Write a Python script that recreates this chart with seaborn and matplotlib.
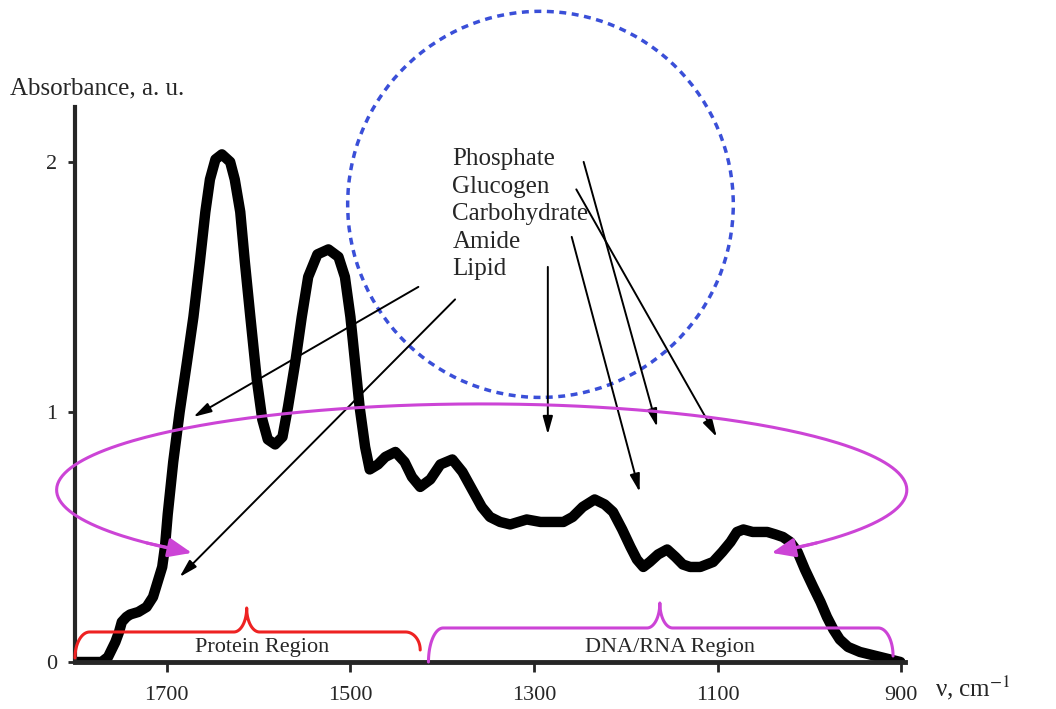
import numpy as np
import matplotlib
matplotlib.use("Agg")
import matplotlib.pyplot as plt
from matplotlib.patches import Ellipse
import seaborn as sns

# ---- data ----
wavenumber = [1800, 1771, 1764, 1760, 1756, 1752, 1749, 1744, 1740, 1731, 1722, 1715,
              1710, 1705, 1702, 1699, 1695, 1693, 1686, 1678, 1671, 1664, 1658, 1653,
              1647, 1640, 1631, 1626, 1620, 1615, 1609, 1602, 1596, 1590, 1582, 1574,
              1568, 1560, 1553, 1546, 1536, 1524, 1513, 1506, 1500, 1495, 1490, 1484,
              1479, 1470, 1462, 1451, 1441, 1433, 1424, 1413, 1402, 1389, 1378, 1366,
              1357, 1348, 1337, 1326, 1317, 1308, 1293, 1279, 1268, 1258, 1247, 1234,
              1223, 1214, 1204, 1195, 1188, 1181, 1174, 1165, 1155, 1146, 1138, 1130,
              1119, 1105, 1095, 1086, 1079, 1072, 1062, 1054, 1046, 1037, 1029, 1021,
              1013, 1005, 996, 988, 981, 974, 967, 958, 945, 934, 923, 912, 901]
absorbance = [0.0, 0.0, 0.02, 0.05, 0.08, 0.12, 0.16, 0.18, 0.19, 0.20, 0.22, 0.26,
              0.32, 0.38, 0.46, 0.59, 0.73, 0.80, 1.0, 1.2, 1.38, 1.6, 1.8, 1.93,
              2.01, 2.03, 2.0, 1.93, 1.8, 1.6, 1.38, 1.13, 0.97, 0.89, 0.87, 0.9,
              1.02, 1.2, 1.38, 1.54, 1.63, 1.65, 1.62, 1.54, 1.38, 1.2, 1.02, 0.86,
              0.77, 0.79, 0.82, 0.84, 0.80, 0.74, 0.70, 0.73, 0.79, 0.81, 0.76, 0.68,
              0.62, 0.58, 0.56, 0.55, 0.56, 0.57, 0.56, 0.56, 0.56, 0.58, 0.62, 0.65,
              0.63, 0.60, 0.53, 0.46, 0.41, 0.38, 0.40, 0.43, 0.45, 0.42, 0.39, 0.38,
              0.38, 0.40, 0.44, 0.48, 0.52, 0.53, 0.52, 0.52, 0.52, 0.51, 0.50, 0.48,
              0.44, 0.37, 0.30, 0.24, 0.18, 0.13, 0.09, 0.06, 0.04, 0.03, 0.02, 0.01, 0.0]
x_ticks = [1700, 1500, 1300, 1100, 900]
y_ticks = [0, 1, 2]
labels = ["Phosphate", "Glucogen", "Carbohydrate", "Amide", "Lipid"]

sns.set_style("ticks")
plt.rcParams["font.family"] = ["Liberation Serif", "DejaVu Serif"]
plt.rcParams["mathtext.fontset"] = "stix"

fig = plt.figure(figsize=(10.56, 7.09), dpi=100)
ax = fig.add_axes([0.071, 0.0663, 0.786, 0.783])

sns.lineplot(x=wavenumber, y=absorbance, ax=ax, color="black", linewidth=7.5,
             estimator=None, sort=False, solid_joinstyle="round", solid_capstyle="round")

ax.set_xlim(1800, 896)
ax.set_ylim(0, 2.22)
ax.set_xticks(x_ticks)
ax.set_yticks(y_ticks)
ax.tick_params(axis="x", labelsize=16, length=7, width=2, pad=10)
ax.tick_params(axis="y", labelsize=16, length=5, width=2, pad=8)
sns.despine(ax=ax)
ax.spines["left"].set_linewidth(3)
ax.spines["bottom"].set_linewidth(3.5)
ax.set_xlabel("")
ax.set_ylabel("")

fig.text(10 / 1056, 1 - 88 / 709, "Absorbance, a. u.", fontsize=18, va="center", ha="left")
fig.text(935 / 1056, 1 - 688 / 709, r"ν, cm$^{-1}$", fontsize=18, va="center", ha="left")

# ---- blue dashed circle ----
circ = Ellipse((1293, 1.83), width=420, height=1.544, fill=False, edgecolor="#3a4fd8",
               linewidth=2.5, linestyle=(0, (2.0, 1.6)), clip_on=False, zorder=3)
ax.add_patch(circ)

# ---- labels in the circle ----
label_y = [2.01, 1.90, 1.79, 1.68, 1.57]
for lab, yy in zip(labels, label_y):
    ax.text(1389, yy, lab, fontsize=18, ha="left", va="center")

# ---- black arrows ----
arrows = [((1426, 1.50), (1671, 0.98)),
          ((1386, 1.45), (1686, 0.34)),
          ((1285, 1.58), (1285, 0.91)),
          ((1259, 1.70), (1185, 0.68)),
          ((1246, 2.00), (1166, 0.94)),
          ((1254, 1.89), (1101, 0.90))]
for start, end in arrows:
    ax.annotate("", xy=end, xytext=start, zorder=4,
                arrowprops=dict(arrowstyle="-|>,head_length=0.9,head_width=0.25",
                                mutation_scale=12, color="black", lw=1.4,
                                shrinkA=0, shrinkB=0))

# ---- magenta open ellipse with arrows ----
mag = "#cc44d6"
wc, yc, axr, ayr = 1357, 0.688, 463, 0.344
phi = np.radians(np.linspace(226, -46, 300))
ex = wc - axr * np.cos(phi)
ey = yc + ayr * np.sin(phi)
ax.plot(ex, ey, color=mag, lw=2.2, clip_on=False, zorder=4)
for a0, a1 in [(218, 227), (-38, -47)]:
    p0 = (wc - axr * np.cos(np.radians(a0)), yc + ayr * np.sin(np.radians(a0)))
    p1 = (wc - axr * np.cos(np.radians(a1)), yc + ayr * np.sin(np.radians(a1)))
    ax.annotate("", xy=p1, xytext=p0, zorder=4,
                arrowprops=dict(arrowstyle="-|>,head_length=1.1,head_width=0.45",
                                mutation_scale=13, color=mag, lw=2.2,
                                shrinkA=0, shrinkB=0))


# ---- curly braces ----
def brace(xl, xr, xt, yl_end, yr_end, yline, ytip, rx, tx, color):
    t = np.linspace(0, np.pi / 2, 30)
    h = ytip - yline
    # left end curl (axis is inverted: display-right means smaller wavenumber)
    s1x = xl - rx * (1 - np.cos(t))
    s1y = yl_end + (yline - yl_end) * np.sin(t)
    # rising into the cusp
    s2x = xt + tx * (1 - np.sin(t))
    s2y = yline + h * (1 - np.cos(t))
    # leaving the cusp
    s3x = xt - tx * (1 - np.sin(t[::-1]))
    s3y = yline + h * (1 - np.cos(t[::-1]))
    # right end curl
    s4x = xr + rx * (1 - np.cos(t[::-1]))
    s4y = yr_end + (yline - yr_end) * np.sin(t[::-1])
    xs = np.concatenate([s1x, s2x, s3x, s4x])
    ys = np.concatenate([s1y, s2y, s3y, s4y])
    ax.plot(xs, ys, color=color, lw=2.2, clip_on=False, zorder=3)


brace(1800, 1424, 1613, 0.016, 0.048, 0.12, 0.216, 16, 14, "#ee2222")
brace(1415, 909, 1163, 0.0, 0.024, 0.136, 0.236, 16, 14, mag)

ax.text(1596, 0.056, "Protein Region", fontsize=16, ha="center", va="center")
ax.text(1152, 0.056, "DNA/RNA Region", fontsize=16, ha="center", va="center")

fig.savefig("out.png", dpi=100)
